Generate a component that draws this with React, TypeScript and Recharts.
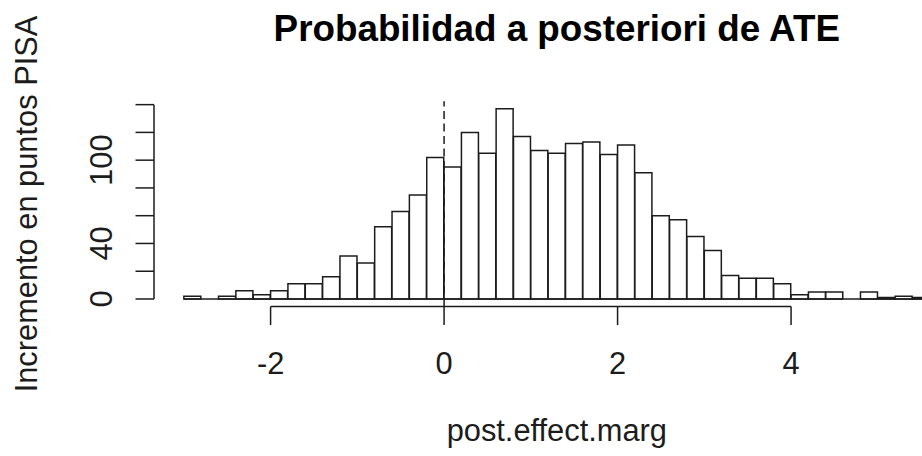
import { Bar, ComposedChart, ReferenceLine, XAxis, YAxis } from 'recharts'

// histogram of post.effect.marg, bins of 0.2 from -3.0 to 5.6
const binMids = [
  -2.9, -2.7, -2.5, -2.3, -2.1, -1.9, -1.7, -1.5, -1.3, -1.1, -0.9, -0.7, -0.5, -0.3, -0.1,
  0.1, 0.3, 0.5, 0.7, 0.9, 1.1, 1.3, 1.5, 1.7, 1.9, 2.1, 2.3, 2.5, 2.7, 2.9,
  3.1, 3.3, 3.5, 3.7, 3.9, 4.1, 4.3, 4.5, 4.7, 4.9, 5.1, 5.3, 5.5,
]
const counts = [
  2, 0, 2, 6, 3, 6, 11, 11, 16, 31, 26, 52, 63, 75, 102,
  95, 120, 105, 137, 117, 107, 105, 112, 113, 104, 111, 91, 60, 57, 45,
  35, 17, 15, 15, 11, 3, 5, 5, 0, 5, 1, 2, 1,
]
const xTicks = [-2, 0, 2, 4]
const yTicks = [0, 20, 40, 60, 80, 100, 120, 140]
const yTickLabels = [0, 40, 100]

const title = 'Probabilidad a posteriori de ATE'
const xTitle = 'post.effect.marg'
const yTitle = 'Incremento en puntos PISA'

const data = binMids.map((mid, i) => ({ mid, count: counts[i] }))

const INK = '#1c1c1c'
const SANS = '"Liberation Sans", Arial, Helvetica, sans-serif'
const FS = 30.8
const W = 962
const H = 456
const half = 0.1
const lo = binMids[0] - half
const hi = binMids[binMids.length - 1] + half
const X_DOMAIN: [number, number] = [lo - 0.04 * (hi - lo), hi + 0.04 * (hi - lo)]
const yMax = Math.max(...counts)
const Y_DOMAIN: [number, number] = [-0.04 * yMax, yMax * 1.04]

function YTick({ x, y, payload }: any) {
  if (!yTickLabels.includes(payload.value)) return <g />
  return (
    <text
      x={x}
      y={y}
      transform={`rotate(-90 ${x} ${y})`}
      textAnchor="middle"
      fontSize={FS}
      fontFamily={SANS}
      fill={INK}
    >
      {payload.value}
    </text>
  )
}

export default function App() {
  return (
    <div
      style={{
        position: 'fixed',
        left: 0,
        top: 0,
        width: 922,
        height: 456,
        overflow: 'hidden',
        background: '#fff',
      }}
    >
      <ComposedChart
        width={W}
        height={H}
        data={data}
        margin={{ top: 101.2, right: 2.3, bottom: 89.4, left: 94 }}
        barCategoryGap={0}
        barGap={0}
      >
        <XAxis
          type="number"
          dataKey="mid"
          domain={X_DOMAIN}
          allowDataOverflow
          ticks={xTicks}
          height={60}
          axisLine={false}
          tickLine={{ stroke: INK, strokeWidth: 1.5 }}
          tickSize={18.5}
          tickMargin={27}
          tick={{ fill: INK, fontSize: FS, fontFamily: SANS }}
        />
        <YAxis
          type="number"
          domain={Y_DOMAIN}
          allowDataOverflow
          ticks={yTicks}
          width={60}
          axisLine={false}
          tickLine={{ stroke: INK, strokeWidth: 1.5 }}
          tickSize={18.5}
          tickMargin={23.8}
          tick={<YTick />}
        />
        <Bar dataKey="count" fill="#fff" stroke={INK} strokeWidth={1.5} isAnimationActive={false} />
        <ReferenceLine
          segment={[{ x: lo, y: 0 }, { x: hi, y: 0 }]}
          stroke={INK}
          strokeWidth={1.5}
          ifOverflow="visible"
        />
        <ReferenceLine x={0} stroke={INK} strokeWidth={1.5} strokeDasharray="8 4.5" />
        <ReferenceLine
          segment={[{ x: xTicks[0], y: Y_DOMAIN[0] }, { x: xTicks[xTicks.length - 1], y: Y_DOMAIN[0] }]}
          stroke={INK}
          strokeWidth={1.5}
          ifOverflow="visible"
        />
        <ReferenceLine
          segment={[{ x: X_DOMAIN[0], y: yTicks[0] }, { x: X_DOMAIN[0], y: yTicks[yTicks.length - 1] }]}
          stroke={INK}
          strokeWidth={1.5}
          ifOverflow="visible"
        />
      </ComposedChart>
      <svg
        width={922}
        height={456}
        style={{ position: 'absolute', left: 0, top: 0, pointerEvents: 'none' }}
      >
        <text
          x={556.8}
          y={41}
          textAnchor="middle"
          fontSize={36.8}
          fontWeight="bold"
          fontFamily={SANS}
          fill="#000"
        >
          {title}
        </text>
        <text x={556.8} y={441} textAnchor="middle" fontSize={FS} fontFamily={SANS} fill={INK}>
          {xTitle}
        </text>
        <text
          transform="translate(37 204) rotate(-90)"
          textAnchor="middle"
          fontSize={FS}
          fontFamily={SANS}
          fill={INK}
        >
          {yTitle}
        </text>
      </svg>
    </div>
  )
}
